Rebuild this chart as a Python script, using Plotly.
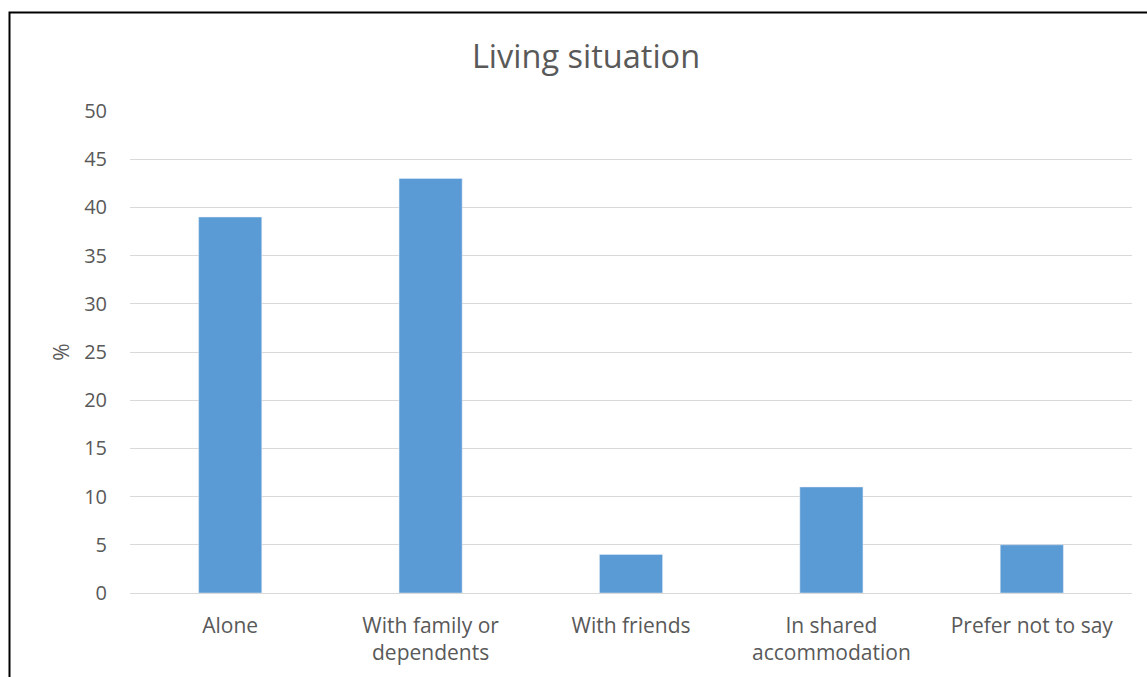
import plotly.graph_objects as go

categories = ["Alone", "With family or<br>dependents", "With friends", "In shared<br>accommodation", "Prefer not to say"]
values = [39, 43, 4, 11, 5]
y_ticks = [0, 5, 10, 15, 20, 25, 30, 35, 40, 45, 50]

W, H = 1147, 677
ml, mr, mt, mb = 130, 15, 111, 84
pw, ph = W - ml - mr, H - mt - mb

fig = go.Figure(go.Bar(x=categories, y=values, marker_color="#5B9BD5", width=0.315))

font = "Open Sans, Noto Sans, sans-serif"
fig.update_layout(
    width=W, height=H,
    margin=dict(l=ml, r=mr, t=mt, b=mb),
    paper_bgcolor="white", plot_bgcolor="white",
    font=dict(family=font, color="#595959", size=20),
    title=dict(text="Living situation", x=(586) / W, xanchor="center",
               y=1 - 57 / H, yanchor="middle", font=dict(size=32.5, color="#595959")),
    showlegend=False,
    xaxis=dict(showline=False, ticks="", tickfont=dict(size=21, color="#595959"), ticklabelstandoff=18),
    yaxis=dict(range=[0, 50], tickvals=y_ticks, showgrid=True, gridcolor="#D9D9D9", gridwidth=1,
               zeroline=True, zerolinecolor="#D9D9D9", zerolinewidth=1, showline=False, ticks="",
               ticklabelstandoff=22,
               title=dict(text="%", standoff=8, font=dict(size=21, color="#595959")),
               tickfont=dict(size=20, color="#595959")),
    shapes=[dict(type="rect", xref="paper", yref="paper",
                 x0=(9.5 - ml) / pw, x1=1.2, y0=-0.4, y1=1 + (mt - 12.5) / ph,
                 line=dict(color="black", width=2), fillcolor="rgba(0,0,0,0)", layer="above")],
)

fig.write_html("out.html")
